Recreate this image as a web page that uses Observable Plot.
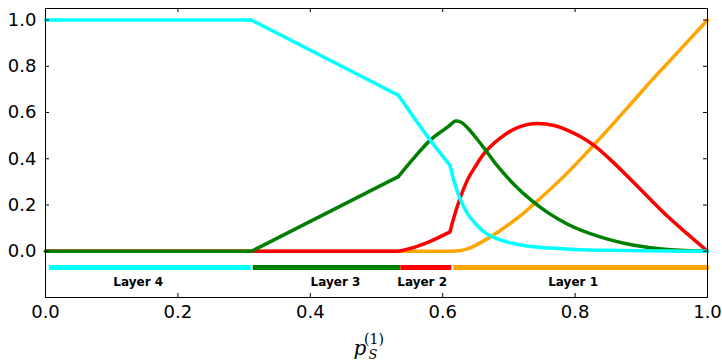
<!DOCTYPE html>
<html>
<head>
<meta charset="utf-8">
<script src="https://cdn.jsdelivr.net/npm/d3@7"></script>
<script src="https://cdn.jsdelivr.net/npm/@observablehq/plot@0.6"></script>
<style>
  html, body { margin: 0; padding: 0; background: white; }
</style>
</head>
<body>
<div id="chart"></div>
<script>
// ---- data ----
const xTicks = [0, 0.2, 0.4, 0.6, 0.8, 1.0];
const yTicks = [0, 0.2, 0.4, 0.6, 0.8, 1.0];

// curves (kink = index of points where the curve has a corner)
const cyanX = [0.000, 0.311, 0.533, 0.558, 0.584, 0.611, 0.617, 0.625, 0.637, 0.650, 0.662, 0.688, 0.718, 0.750, 0.800, 0.850, 0.900, 1.000];
const cyanY = [1.000, 1.000, 0.675, 0.572, 0.470, 0.372, 0.305, 0.235, 0.165, 0.118, 0.085, 0.048, 0.027, 0.016, 0.008, 0.004, 0.002, 0.000];
const cyanKinks = [1, 2, 5];

const greenX = [0.000, 0.311, 0.533, 0.557, 0.582, 0.600, 0.611, 0.620, 0.628, 0.637, 0.650, 0.662, 0.683, 0.708, 0.735, 0.760, 0.788, 0.839, 0.889, 0.940, 1.000];
const greenY = [0.000, 0.000, 0.323, 0.405, 0.483, 0.522, 0.545, 0.563, 0.558, 0.535, 0.492, 0.448, 0.368, 0.288, 0.218, 0.165, 0.118, 0.061, 0.026, 0.008, 0.000];
const greenKinks = [1, 2, 6];

const redX = [0.000, 0.533, 0.557, 0.582, 0.611, 0.617, 0.625, 0.637, 0.650, 0.662, 0.688, 0.713, 0.743, 0.770, 0.788, 0.829, 0.860, 0.889, 0.915, 0.940, 0.970, 1.000];
const redY = [0.000, 0.000, 0.017, 0.044, 0.084, 0.147, 0.219, 0.306, 0.370, 0.421, 0.492, 0.535, 0.553, 0.543, 0.524, 0.457, 0.378, 0.296, 0.221, 0.150, 0.074, 0.000];
const redKinks = [1, 4];

const orangeX = [0.000, 0.611, 0.625, 0.637, 0.662, 0.688, 0.718, 0.738, 0.788, 0.829, 0.889, 0.919, 0.950, 1.000];
const orangeY = [0.000, 0.000, 0.002, 0.010, 0.045, 0.092, 0.155, 0.205, 0.338, 0.462, 0.653, 0.750, 0.845, 1.000];
const orangeKinks = [1];

// layers
const layerNames  = ["Layer 4", "Layer 3", "Layer 2", "Layer 1"];
const layerStart  = [0.005, 0.313, 0.536, 0.616];
const layerEnd    = [0.310, 0.536, 0.613, 1.002];
const layerLabelX = [0.140, 0.438, 0.569, 0.797];
const layerColors = ["#00ffff", "#008000", "#ff0000", "#ffa500"];
const layerBarY = -0.07;
const layerLabelY = -0.135;

// ---- build tables ----
function pieces(xs, ys, kinks, color, name) {
  const rows = [];
  let piece = 0;
  for (let i = 0; i < xs.length; i++) {
    rows.push({x: xs[i], y: ys[i], piece: name + piece, color});
    if (kinks.includes(i)) {
      piece++;
      rows.push({x: xs[i], y: ys[i], piece: name + piece, color});
    }
  }
  return rows;
}
// drawing order: orange, red, green, cyan (cyan on top)
const curveRows = [
  ...pieces(orangeX, orangeY, orangeKinks, "#ffa500", "o"),
  ...pieces(redX, redY, redKinks, "#ff0000", "r"),
  ...pieces(greenX, greenY, greenKinks, "#008000", "g"),
  ...pieces(cyanX, cyanY, cyanKinks, "#00ffff", "c")
];
const layers = layerNames.map((name, i) => ({
  name, start: layerStart[i], end: layerEnd[i], labelX: layerLabelX[i], color: layerColors[i]
}));

// ---- chart ----
const W = 722, H = 361, ML = 45, MR = 15, MT = 8, MB = 64;
const fw = W - ML - MR, fh = H - MT - MB;
const fmt = d => d.toFixed(1);

const chart = Plot.plot({
  width: W, height: H,
  marginLeft: ML, marginRight: MR, marginTop: MT, marginBottom: MB,
  x: {domain: [0, 1]},
  y: {domain: [-0.2, 1.05]},
  color: {type: "identity"},
  style: {fontFamily: "DejaVu Sans", fontSize: "18px", color: "black", background: "white", overflow: "visible"},
  marks: [
    Plot.link(layers, {x1: "start", x2: "end", y1: () => layerBarY, y2: () => layerBarY,
      stroke: "color", strokeWidth: 5, strokeLinecap: "butt"}),
    Plot.text(layers, {x: "labelX", y: () => layerLabelY, text: "name",
      fontWeight: "bold", fontSize: 12, fill: "black", fontFamily: "DejaVu Sans"}),
    Plot.line(curveRows, {x: "x", y: "y", z: "piece", stroke: "color", strokeWidth: 3.5,
      curve: "monotone-x", strokeLinejoin: "round", strokeLinecap: "round"}),
    Plot.frame({stroke: "black", strokeWidth: 1}),
    Plot.tickY(yTicks, {y: d => d, insetRight: fw - 4, stroke: "black", strokeWidth: 1}),
    Plot.tickY(yTicks, {y: d => d, insetLeft: fw - 4, stroke: "black", strokeWidth: 1}),
    Plot.tickX(xTicks, {x: d => d, insetTop: fh - 4, stroke: "black", strokeWidth: 1}),
    Plot.tickX(xTicks, {x: d => d, insetBottom: fh - 4, stroke: "black", strokeWidth: 1}),
    Plot.axisY(yTicks, {tickSize: 0, tickPadding: 9, tickFormat: fmt, label: null, fontSize: 18}),
    Plot.axisX(xTicks, {tickSize: 0, tickPadding: 8, tickFormat: fmt, label: null, fontSize: 18})
  ]
});

document.getElementById("chart").appendChild(chart);

// x-axis label: p_S^(1)
const svg = d3.select(chart);
const cx = ML + fw / 2;
const lab = svg.append("g").attr("fill", "black");
lab.append("text").attr("x", cx - 16).attr("y", 355).attr("font-family", "DejaVu Serif")
  .attr("font-style", "italic").attr("font-size", 20).text("p");
lab.append("text").attr("x", cx - 3).attr("y", 359).attr("font-family", "DejaVu Serif")
  .attr("font-style", "italic").attr("font-size", 13).text("S");
lab.append("text").attr("x", cx - 2).attr("y", 344).attr("font-family", "DejaVu Serif")
  .attr("font-size", 14).text("(1)");
</script>
</body>
</html>
